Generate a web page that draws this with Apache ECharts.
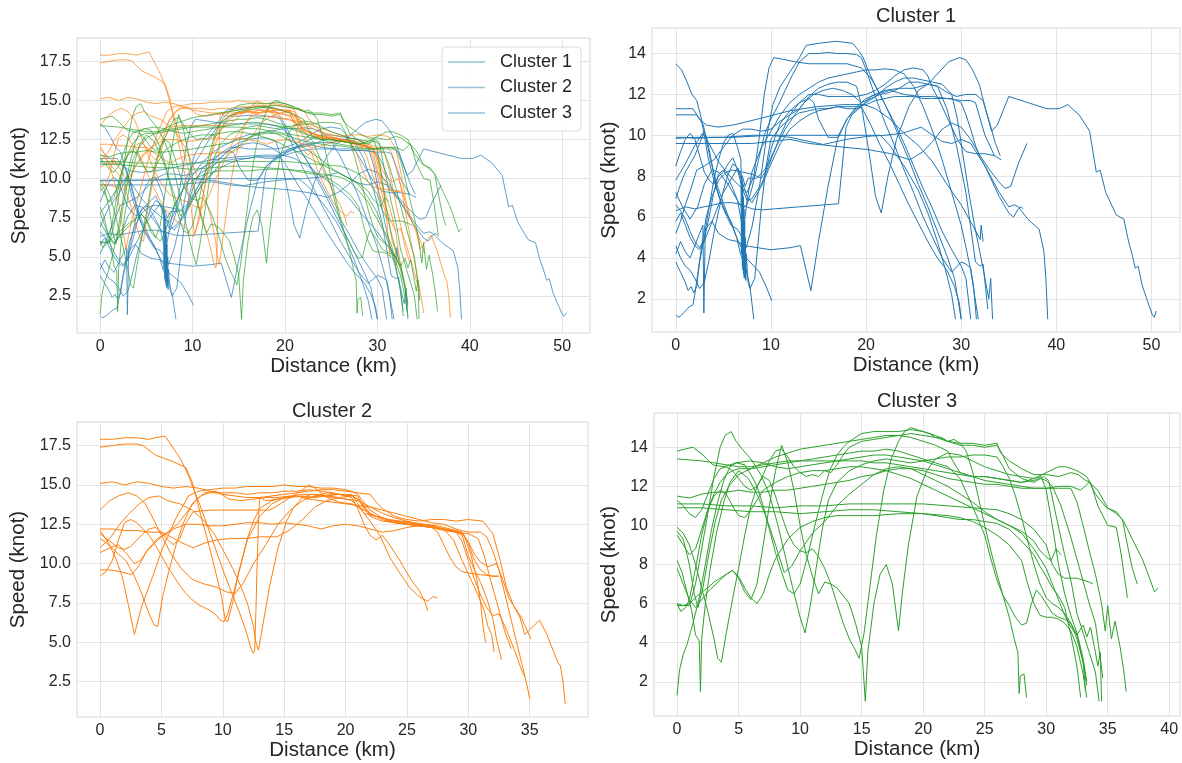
<!DOCTYPE html>
<html>
<head>
<meta charset="utf-8">
<title>Speed profiles by cluster</title>
<script src="https://cdn.jsdelivr.net/npm/echarts@6/dist/echarts.min.js"></script>
<style>
  html, body { margin: 0; padding: 0; background: #fff; }
  #chart { width: 1182px; height: 763px; }
</style>
</head>
<body>
<div id="chart"></div>
<script>
// cluster names / colours
const clusterNames = ["Cluster 1", "Cluster 2", "Cluster 3"];
const clusterColors = ["#1f77b4", "#ff7f0e", "#2ca02c"];

// tick labels per panel
const xTicksAll = [0, 10, 20, 30, 40, 50];
const xTicksCluster1 = [0, 10, 20, 30, 40, 50];
const xTicksCluster2 = [0, 5, 10, 15, 20, 25, 30, 35];
const xTicksCluster3 = [0, 5, 10, 15, 20, 25, 30, 35, 40];
const yTicksAll = [2.5, 5, 7.5, 10, 12.5, 15, 17.5];
const yTicksCluster1 = [2, 4, 6, 8, 10, 12, 14];
const yTicksCluster2 = [2.5, 5, 7.5, 10, 12.5, 15, 17.5];
const yTicksCluster3 = [2, 4, 6, 8, 10, 12, 14];

// trajectories: [distance (km), speed (knot)]
const cluster1Tracks = [
  [[0,13.5],[0.6,13.2],[1.1,12.7],[1.7,12.0],[2.2,11.7],[2.6,11.0],[3.0,10.0],[3.4,8.9],[3.9,8.0],[4.6,6.9],[5.3,6.2],[5.8,5.8],[6.4,5.0],[6.8,4.2],[7.3,3.6],[7.8,2.6],[8.2,1.0]],
  [[0,11.3],[1,11.3],[1.8,11.3],[2.5,10.8],[3.2,10.5],[4.5,10.4],[6,10.5],[7.8,10.7],[9.5,10.9],[12,11.2],[14.8,11.4],[17.6,11.5],[19.8,11.5],[21,11.3],[22.5,10.8],[24,10.1],[25.5,9.5],[27,8.7],[28.5,7.6],[30,6.6],[31.2,5.6],[32,4.9],[32.1,5.6],[32.3,4.8]],
  [[0,11.0],[1,11.0],[2.2,11.0],[2.9,10.5],[3.6,8.9],[4.3,7.6],[5.3,6.3],[6.4,5.0],[7.4,4.0],[8.2,3.6],[8.8,3.3],[9.5,2.6],[10.1,1.9]],
  [[0,9.9],[1,9.9],[2,9.85],[4,9.9],[6,9.9],[8,9.95],[10,10.0],[12,10.0],[14,10.0],[16,10.0],[18,10.0],[20,10.0],[21.5,10.0],[22.5,9.5],[24,8.5],[25.5,7.3],[26.5,6.2],[27.5,4.8],[28.3,3.5],[29,2.2],[29.4,1.0]],
  [[0,9.85],[2,9.9],[5,9.9],[8,10.0],[10,10.0],[12,9.9],[14,9.7],[15.5,9.55],[17.9,9.8],[20.2,9.95],[22,10.0],[23.8,10.1],[25.8,10.4],[27,10.0],[28,9.7],[29,9.6],[30,9.8],[31,9.6],[32.5,8.5],[34,7.2],[35,6.5],[35.6,6.6],[36,6.5],[37,5.9],[37.7,5.6],[38.2,5.4],[38.7,4.3],[38.9,3.0],[39.1,1.0]],
  [[0,9.6],[3,9.6],[6,9.6],[8,9.6],[10,9.7],[12,9.8],[14,9.6],[16,9.5],[18,9.4],[20.2,9.3],[22.6,9.1],[24.6,8.8],[26,9.2],[27,9.7],[28,10.3],[29,10.6],[30,10.4],[31,9.8],[32,9.0],[33,8.3],[34,7.7],[34.6,7.4],[35.2,7.5],[36,8.6],[36.9,9.6]],
  [[0,7.8],[1,8.6],[2,9.5],[2.8,10.1],[3.5,9.6],[4.5,8.7],[5.5,8.1],[6.5,7.6],[7.5,7.2],[8.2,8.0],[8.8,10.0],[9.3,12.0],[9.8,13.3],[10.3,13.8],[11.5,13.7],[12.5,13.6],[14,13.5],[16,13.5],[18,13.5],[19.5,13.3],[20.5,12.8],[21.5,12.0],[22.5,11.0],[23.5,9.9],[24.5,8.8],[25.5,7.6],[26.5,6.5],[27.5,5.3],[28.5,4.1],[29.3,3.0],[30,1.0]],
  [[0,7.2],[0.7,6.5],[1.5,5.9],[2.3,6.5],[3,7.6],[3.8,8.3],[4.5,8.2],[5.5,7.6],[6.5,6.8],[7,5.5],[7.4,4.5],[8,5.5],[8.8,7.5],[9.5,9.8],[10.2,11.5],[11,12.4],[12,13.1],[13,13.8],[13.7,14.4],[15,14.5],[16.9,14.6],[18.6,14.5],[19.3,14.1],[19.7,13.8],[20.2,13.2],[21,12.4],[22,11.5],[23,10.6],[24,9.6],[25,8.5],[26,7.4],[27,6.4],[28,5.3],[29,4.4],[30,3.6],[30.5,3.0],[31,1.0]],
  [[0,6.3],[1,6.5],[2,6.4],[3,6.5],[4,6.6],[5,6.7],[6,6.7],[7,6.6],[8,6.4],[9.1,6.35],[13,6.5],[17.1,6.65],[17.5,8.5],[17.9,10.4],[18.5,11.0],[19.5,11.4],[20.5,11.9],[22,12.2],[23.5,12.3],[25,12.3],[26.5,12.5],[27.5,13.0],[28.7,13.6],[29.8,13.8],[30.5,13.7],[31.2,13.2],[31.9,12.5],[32.6,11.2],[33.2,10.2],[33.8,10.5],[35,11.9],[37,11.6],[39,11.3],[40.3,11.3],[41.2,11.5],[42.4,11.0],[43.5,10.2],[44.2,8.2],[44.6,8.3],[45.2,7.2],[46.3,6.1],[47.1,5.9],[47.5,5.0],[47.7,4.6],[47.9,4.3],[48.3,3.5],[48.6,3.6],[49,2.7],[49.5,2.0],[50.1,1.2],[50.3,1.1],[50.5,1.4]],
  [[0,5.2],[0.5,5.8],[1,6.6],[1.6,7.4],[2.2,8.3],[3,8.5],[4,8.8],[5,9.4],[6,10.0],[7,10.3],[8,10.3],[9,10.2],[10,10.3],[11,10.7],[12,11.0],[13,11.3],[14,11.9],[15,12.3],[16,12.5],[17,12.6],[18,12.6],[19,12.4],[19.5,11.5],[20.3,9.2],[21.0,7.0],[21.6,6.2],[22.3,8.0],[23.2,9.8],[24.5,11.4],[25.5,12.2],[26.5,12.5],[27.5,12.4],[28.5,11.3],[29.5,9.5],[30.5,7.2],[31,5.5],[31.5,3.8],[32,3.6],[32.3,3.7],[32.5,2.8],[32.8,1.5]],
  [[0,4.2],[0.5,4.8],[1,4.3],[1.5,4.0],[2,4.6],[2.5,5.2],[2.85,5.6],[2.95,1.3],[3.1,5.4],[3.8,5.8],[4.5,5.2],[5.5,4.9],[6.5,4.8],[7.2,4.6],[7.9,4.55],[10,4.4],[12,4.5],[13.1,4.6],[14.2,2.4],[15,4.8],[16,7.5],[17,9.8],[18,10.8],[19,11.4],[20,11.8],[21,12.0],[22.5,12.2],[24,12.0],[25.5,11.9],[27,11.9],[28.5,11.8],[30,11.7],[31,11.7],[31.5,11.6],[32.5,10.0],[33.5,9.0],[34.2,8.8]],
  [[0,3.8],[0.5,3.3],[1,2.8],[1.3,2.4],[1.6,2.6],[1.9,2.3],[2.2,2.6],[2.5,3.8],[3,5.0],[3.5,6.5],[4,7.8],[4.5,8.8],[5,9.6],[5.5,10.0],[6,10.1],[6.5,9.4],[6.85,8.8],[6.9,4.2],[6.95,8.0],[7.0,3.6],[7.03,7.6],[7.06,3.4],[7.1,7.0],[7.13,3.2],[7.17,6.4],[7.2,3.0],[7.24,5.8],[7.28,3.1],[7.32,5.0],[7.36,2.9],[7.4,4.2],[7.6,2.8],[7.8,2.5],[8.3,3.0],[9,6.5],[9.5,8.5],[10,9.8],[11,10.4],[12,10.8],[13,11.1],[14,11.2],[15,11.3],[16,11.3],[17,11.4],[18,11.3],[19,11.3],[19.5,11.4],[20.5,10.5],[21.5,9.5],[22.5,8.6],[23.5,7.6],[24.5,6.6],[25.5,5.7],[26.5,4.8],[27.5,4.0],[28.5,3.4],[29.3,2.6],[29.8,1.8],[30.0,1.0]],
  [[0,1.2],[0.3,1.1],[0.6,1.2],[1,1.4],[1.4,1.6],[1.8,1.7],[2.0,2.2],[2.3,3.2],[2.7,4.5],[3.2,6.0],[3.8,7.0],[4.5,7.8],[5.3,8.2],[6,8.3],[7,8.2],[8,8.1],[8.5,8.0],[9,7.9],[9.5,8.3],[10,9.3],[10.5,10.0],[11,10.6],[12,11.2],[13,11.6],[14,12.0],[15,12.0],[16,11.9],[17,11.9],[18,11.9],[19,11.9],[20,12.0],[21,12.2],[22,12.5],[23,12.9],[24,13.2],[25,13.3],[26,13.2],[26.5,12.9],[27,12.3],[27.7,11.7],[28.5,10.9],[29.5,9.9],[30,9.5],[30.5,9.2],[31.5,9.1],[32.5,9.1],[33.5,9.0]],
  [[0,6.9],[0.5,7.6],[1,8.2],[1.5,8.6],[2,9.0],[2.5,9.6],[3,10.2],[3.3,9.8],[3.8,8.6],[4.3,7.4],[5,6.4],[5.8,5.6],[6.5,5.4],[7,5.0],[7.5,6.8],[8,8.2],[9,9.4],[10,10.2],[11,11.0],[12,11.6],[13,12.0],[14,12.3],[15,12.6],[16,12.8],[17,12.9],[18,13.0],[19,13.1],[20,13.2],[21,13.2],[22,13.25],[23,13.2],[24,13.0],[25,12.4],[26,11.4],[27,10.2],[28,8.8],[29,7.2],[30,5.6],[30.6,4.3],[31,3.4],[31.4,2.2],[31.8,1.0]],
  [[0,5.8],[0.5,6.2],[1,5.6],[1.5,5.0],[2,4.6],[2.5,4.4],[3,4.8],[3.5,5.4],[4,6.0],[4.5,6.6],[5,7.2],[5.5,7.6],[6,8.0],[6.5,8.4],[7,8.0],[7.3,7.5],[7.6,7.9],[8.5,7.9],[9.5,8.4],[10.5,9.4],[11.5,10.3],[12.5,11.0],[13.5,11.6],[14.5,12.0],[15.5,12.2],[16.5,12.3],[17.5,12.2],[18.5,12.0],[19.5,11.6],[20.5,11.8],[21.5,12.0],[22.5,12.1],[23.5,12.3],[24.5,12.6],[25.5,12.6],[26.5,12.5],[27.5,12.4],[28.5,12.1],[29.5,11.9],[30.5,12.0],[31.5,12.0],[32.3,11.7],[33,10.6],[33.6,9.6],[34.1,9.0]],
  [[0,4.6],[0.5,4.0],[1,3.6],[1.5,3.4],[2,3.0],[2.5,2.5],[3,2.8],[3.5,3.9],[4,5.2],[4.5,6.3],[5,7.3],[5.5,8.1],[6,8.6],[6.5,8.4],[7,7.7],[7.5,7.0],[8,6.7],[9,7.5],[10,8.6],[11,9.6],[12,10.3],[13,10.7],[14,11.0],[15,11.2],[16,11.3],[17,11.4],[18,11.4],[19,11.4],[20,11.5],[21,11.7],[22,11.8],[23,11.9],[24,11.9],[25,11.9],[26,11.8],[27,11.8],[28,11.8],[29,11.8],[30,11.6],[30.5,11.0],[31,10.3],[31.5,9.5],[32,8.9],[32.5,8.5],[33,8.0],[33.5,7.5],[34,7.0],[34.5,6.6],[35,6.2],[35.5,6.0],[36,6.4],[36.3,6.5],[36.5,6.4]],
  [[0,8.5],[0.5,9.2],[1,9.8],[1.5,10.1],[2,9.8],[2.5,9.0],[3,8.2],[3.5,7.8],[4,7.6],[4.5,8.0],[5,8.2],[5.5,8.6],[6,8.9],[6.5,8.3],[7,7.4],[7.5,6.8],[8,6.9],[9,7.6],[10,8.8],[11,10.0],[12,11.0],[13,11.6],[14,11.8],[14.5,11.6],[15,10.8],[16,9.9],[17,9.9],[18,10.8],[19,11.3],[20,11.6],[21,11.9],[22,12.3],[23,12.6],[24,12.8],[25,12.8],[26,12.7],[27,12.6],[28,12.5],[29,12.0],[29.6,10.8],[30.2,9.0],[30.8,7.2],[31.4,5.6],[32,4.2],[32.5,3.0],[32.9,2.0],[33.1,3.0],[33.3,1.0]],
  [[0,6.6],[0.5,6.3],[1,5.9],[1.5,5.3],[2,4.8],[2.5,4.5],[3,4.9],[3.5,6.0],[4,7.2],[4.5,8.1],[5,8.3],[5.5,7.9],[6,7.4],[6.5,6.8],[7,6.4],[7.5,6.6],[8,7.4],[8.7,8.8],[9.3,10.0],[10,10.8],[10.8,11.5],[11.5,12.2],[12.2,12.9],[13,13.6],[14,14.0],[15,14.0],[16,14.05],[17,14.0],[18,14.0],[19,13.95],[19.5,13.8],[20,13.2],[20.6,12.4],[21.2,11.6],[22,10.6],[23,9.5],[24,8.3],[25,7.2],[26,6.0],[27,5.0],[28,4.0],[29,3.3],[30,3.8],[30.5,3.7],[31,3.5],[31.3,2.6],[31.6,1.0]]
];

const cluster2Tracks = [
  [[0,17.9],[1,17.9],[2,18.0],[3,18.0],[4,17.9],[4.5,18.0],[5.3,18.1],[6,17.3],[6.6,16.6],[7.2,15.6],[7.7,14.6],[8.2,13.6],[8.7,12.5],[9.2,11.4],[9.7,10.3],[10.2,9.2],[10.8,8.0],[11.4,6.8],[11.9,5.7],[12.3,4.6],[12.5,4.3],[12.6,4.5],[12.7,7.0],[12.8,10.0],[12.9,12.5],[13.0,14.2],[13.5,14.0],[14.5,14.1],[15.5,14.2],[16.5,14.3],[17.5,14.2],[18.5,14.3],[19.5,14.4],[20.5,14.3],[21,14.1],[21.5,13.5],[22,13.1],[23,12.9],[24,12.7],[25,12.6],[26,12.5],[27,12.4],[28,12.2],[29,12.0],[29.5,11.8],[30,10.5],[30.5,9.6],[31,8.8],[31.5,7.8],[32,6.5],[32.3,5.2],[32.7,3.9]],
  [[0,17.4],[1,17.5],[2,17.6],[3,17.6],[3.5,17.5],[4.5,16.9],[5.9,16.5],[7,16.1],[7.5,15.2],[8.2,13.1],[8.9,11.1],[9.5,9.2],[9.9,7.9],[10.2,6.4],[10.4,6.3],[10.8,7.5],[11.3,9.5],[12,11.5],[13,13.0],[14,13.8],[15,14.2],[16,14.3],[17,14.2],[18,14.3],[19,14.4],[20,14.4],[21,14.3],[21.5,13.6],[22,13.0],[23,12.7],[24,12.6],[25,12.5],[26,12.4],[27,12.3],[28,12.1],[29,12.0],[30,11.9],[30.8,11.6],[31.3,10.5],[31.8,9.0],[32.3,7.6],[32.7,6.5],[33,5.6],[33.3,5.0],[33.5,4.6]],
  [[0,15.1],[1,15.2],[2,15.0],[3,15.2],[4,15.1],[5,14.9],[6,14.8],[7,14.9],[8,14.8],[9,14.6],[10,14.4],[11,14.3],[12,14.2],[13,14.2],[14,14.3],[15,14.4],[16,14.5],[17,14.6],[18,14.7],[19,14.7],[20,14.6],[21,14.5],[22,14.4],[22.5,13.9],[23,13.5],[24,13.0],[25,12.8],[26,12.7],[27,12.8],[28,12.8],[29,12.7],[30,12.8],[31.2,12.7],[32,11.9],[32.6,10.2],[33.1,8.5],[33.7,7.3],[34.2,6.6],[34.6,5.5],[35,5.8],[35.8,6.4],[36.4,5.5],[37,4.3],[37.3,3.7],[37.5,3.5],[37.7,2.6],[37.9,1.1]],
  [[0,13.4],[0.8,14.0],[1.5,14.3],[2.3,14.5],[3,14.3],[3.7,13.8],[4.3,12.9],[5,11.8],[5.8,10.6],[6.6,9.7],[7.5,9.0],[8.5,8.7],[9.5,8.5],[10.3,8.2],[11,8.1],[11.7,8.8],[12.5,10.0],[13.5,11.2],[14.5,12.5],[15.5,13.4],[16.5,14.0],[17.5,14.3],[18.5,14.5],[19.5,14.4],[20.5,14.2],[21,13.5],[21.5,12.5],[22,11.8],[22.5,11.5],[23,11.8],[23.5,11.3],[24,10.7],[24.5,10.1],[25,9.4],[25.5,8.8],[26,8.3],[26.5,7.5],[26.7,7.0]],
  [[0,12.1],[0.7,11.3],[1.3,10.3],[1.8,9.2],[2.3,7.4],[2.8,5.5],[3.4,7.3],[4.3,9.2],[5.1,11.0],[6.2,12.9],[7.2,14.3],[8,14.6],[9,14.7],[10,14.8],[11,14.8],[12,14.9],[13,14.9],[14,14.9],[15,15.0],[16,14.9],[17,14.9],[18,14.8],[19,14.8],[20,14.7],[20.5,14.6],[21,14.4],[22,13.4],[23,12.9],[24,12.6],[25,12.5],[26,12.4],[27,12.3],[28,12.2],[29,12.1],[29.6,11.9],[30.2,10.6],[30.7,9.0],[31.0,7.5],[31.2,6.0],[31.4,5.0]],
  [[0,11.6],[0.7,11.2],[1.5,10.6],[2.1,10.2],[2.8,9.2],[3.4,8.1],[3.9,7.0],[4.4,6.1],[4.7,6.0],[5.1,7.9],[5.6,9.5],[6.2,11.2],[6.8,12.6],[7.5,13.8],[8.2,14.3],[8.9,14.5],[10,14.5],[11,14.5],[12,14.4],[13,14.5],[14,14.5],[15,14.6],[16,14.6],[17,14.7],[18,14.6],[19,14.5],[20,14.3],[20.5,14.4],[21,13.8],[21.5,13.2],[22.5,13.0],[23.5,12.8],[24.5,12.6],[25.5,12.5],[26.5,12.4],[27.5,12.3],[28.5,12.1],[29.5,11.9],[30,11.4],[30.5,10.6],[31,10.1],[31.6,9.8],[32.3,10.0],[32.8,9.0],[33.3,7.8],[33.8,7.2],[34.3,6.6],[34.7,5.9],[35.1,5.2]],
  [[0,11.0],[0.8,11.6],[1.6,12.5],[2.4,13.2],[3.2,13.8],[4,14.2],[4.8,14.3],[5.5,14.0],[6.5,13.8],[7.5,13.4],[8.5,12.7],[9.3,11.9],[10,10.9],[10.8,9.7],[11.5,8.5],[12,7.5],[12.5,6.0],[12.7,5.0],[12.9,4.5],[13.2,5.8],[13.8,8.5],[14.5,11.0],[15.2,12.7],[15.8,13.6],[16.5,14.2],[17.2,14.4],[18,14.3],[19,14.2],[20,14.1],[21,14.0],[22,13.6],[23,13.2],[24,12.9],[25,12.7],[26,12.5],[27,12.4],[28,12.2],[28.8,11.5],[29.5,10.2],[30.2,9.0],[30.8,8.0],[31.3,7.0],[31.6,6.0],[31.9,5.5],[32.1,4.4]],
  [[0,10.7],[0.8,11.0],[1.5,11.2],[2.2,10.6],[2.8,10.0],[3.3,10.2],[4,11.0],[4.7,11.6],[5.5,12.0],[6.3,12.5],[7,13.2],[7.8,14.0],[8.5,14.5],[9.5,14.6],[10.5,14.1],[11.5,14.0],[12.5,14.1],[13.5,14.2],[14.5,14.2],[15.5,14.3],[16.5,14.4],[17.5,14.4],[18.5,14.3],[19.5,14.2],[20.5,14.0],[21.2,13.5],[22,12.7],[22.8,11.8],[23.6,10.4],[24.5,9.3],[25.2,8.5],[26,7.9],[26.7,7.6],[27.1,7.9],[27.5,7.8]],
  [[0,9.6],[0.8,9.6],[1.6,9.5],[2.6,9.3],[3.2,9.9],[3.8,10.8],[5,11.7],[6,12.2],[7,12.5],[8,12.5],[9,12.4],[10,12.4],[11,12.5],[12,12.6],[13,12.6],[14,12.5],[15,12.6],[16,12.5],[17,12.4],[18,12.2],[19,12.4],[20,12.5],[21,12.4],[22,12.2],[23,12.0],[24,12.1],[25,12.3],[26,12.4],[27,12.3],[27.5,12.0],[28,11.2],[28.5,10.4],[29,9.8],[29.5,9.5],[30,9.4],[31,9.3],[32,9.2],[32.5,9.2]],
  [[0,9.2],[0.5,9.5],[1,10.2],[1.5,11.5],[2,12.6],[2.5,12.8],[3,12.6],[3.5,12.2],[4,11.8],[4.5,11.2],[5,10.5],[5.5,9.8],[6,9.2],[6.5,8.6],[7,8.1],[7.5,7.7],[8,7.4],[8.5,7.2],[9,7.0],[9.5,6.7],[9.8,6.4],[10.1,6.3],[10.4,6.8],[11,8.5],[11.5,10.0],[12,11.6],[12.5,12.7],[13,13.5],[14,14.0],[15,14.2],[16,14.3],[17,14.1],[18,14.0],[19,13.9],[20,13.8],[21,13.7],[22,13.6],[23,13.4],[24,13.2],[25,13.0],[26,12.8],[27,12.6],[28,12.5],[29,12.2],[30,12.0],[31,12.0],[31.5,11.7],[32,10.8],[32.5,9.6],[33,8.0],[33.5,6.4],[34,4.8],[34.4,3.5],[34.8,2.2],[35,1.4]],
  [[0,12.2],[1,12.2],[2,12.1],[3,12.1],[4,12.0],[5,12.0],[6,11.6],[7,11.2],[7.6,11.0],[8.5,11.3],[9.5,11.5],[10.7,11.6],[12,11.6],[13,11.7],[14.4,11.7],[15.4,12.1],[16.5,12.8],[17.5,13.6],[18.5,14.0],[19.5,14.2],[20.5,14.3],[21.2,14.0],[22,13.2],[23,12.8],[24,12.6],[25,12.5],[26,12.4],[27,12.3],[28,12.2],[29,12.0],[29.5,11.4],[30,10.2],[30.5,9.0],[31,8.0],[31.5,7.2],[32,6.7],[32.5,6.8],[33,6.0],[33.5,5.0],[34,4.0],[34.3,3.3],[34.6,2.8]],
  [[0,11.9],[0.5,11.6],[1,11.3],[1.5,11.0],[2,10.9],[2.5,11.1],[3,11.5],[3.5,11.9],[4,12.2],[4.5,12.3],[5,12.0],[5.5,11.5],[6,11.2],[6.5,11.6],[7,12.6],[7.6,13.3],[9,13.4],[10,13.4],[11,13.4],[12,13.4],[13,13.4],[13.8,13.4],[14.5,13.7],[15.5,14.2],[16.5,14.7],[17,15.0],[17.5,14.8],[18.5,14.2],[19.5,13.9],[20.5,13.8],[21.5,13.4],[22.5,13.0],[23.5,12.8],[24.5,12.7],[25.5,12.6],[26.5,12.5],[27.5,12.4],[28.5,12.2],[29.5,12.0],[30,11.3],[30.5,10.2],[31,9.6],[31.5,9.3],[32,9.2],[32.4,9.2]]
];

const cluster3Tracks = [
  [[0,13.8],[0.6,13.9],[1.3,14.0],[2.1,13.6],[2.9,13.1],[3.8,13.0],[4.8,13.2],[5.9,13.3],[7,13.2],[8,13.0],[9,12.9],[10,13.0],[11,13.1],[12,13.2],[13,13.3],[14,13.4],[15,13.5],[16,13.6],[17,13.6],[18,13.5],[19,13.4],[20,13.3],[21,13.1],[22,12.9],[23,12.7],[24,12.5],[25,12.3],[26,12.2],[27,12.1],[28,12.0],[29,11.9],[30,11.9],[31,11.9],[32,11.9],[32.5,11.2],[33,10.0],[33.5,8.7],[34,7.5],[34.5,6.0],[34.8,4.6],[35,5.9],[35.3,4.2],[35.6,5.1],[36,3.8],[36.3,2.6],[36.5,1.5]],
  [[0,13.4],[1,13.35],[2,13.3],[3,13.2],[4,13.1],[5,13.0],[6,13.0],[7,13.1],[8,13.2],[9,13.3],[10,13.3],[11,13.3],[12,13.3],[13,13.3],[14,13.3],[15,13.3],[16,13.2],[17,13.2],[18,13.1],[19,13.0],[20,12.9],[21,12.8],[22,12.7],[23,12.6],[24,12.5],[25,12.5],[26,12.4],[27,12.3],[28,12.2],[29,12.4],[30,12.7],[31,13.0],[31.6,13.0],[32.5,12.8],[33.3,12.5],[34,11.6],[34.9,10.9],[35.7,10.7],[36.3,10.2],[37,9.3],[37.8,8.3],[38.4,7.3],[38.8,6.6],[39.1,6.8]],
  [[0,11.5],[1,11.4],[2,11.6],[3,11.7],[4,11.7],[5,11.8],[6,11.7],[7,11.7],[8,11.8],[9,11.8],[10,11.9],[11,12.0],[12,12.1],[13,12.2],[14,12.3],[15,12.5],[16,12.6],[17,12.8],[18,12.9],[19,12.9],[20,12.8],[21,12.6],[22,12.4],[23,12.3],[24,12.2],[25,12.1],[26,12.1],[27,12.0],[28,11.9],[29,11.9],[30,11.9],[31,12.0],[32,12.0],[32.8,11.8],[33.5,12.2],[34.2,11.8],[35,10.9],[35.7,10.6],[36.2,10.3],[36.6,9.0],[37,7.8],[37.4,7.0]],
  [[0,11.1],[2,11.1],[4,11.0],[6,11.0],[8,10.9],[10,11.0],[12,11.0],[14,11.1],[16,11.1],[18,11.1],[20,11.1],[22,11.0],[24,10.9],[26,10.8],[27,10.6],[28,10.3],[29,9.8],[30,9.0],[30.5,8.0],[31,7.5],[31.5,7.3],[32.5,7.3],[33.5,7.1],[33.8,7.0]],
  [[0,10.9],[2,10.9],[4,10.8],[6,10.7],[8,10.7],[10,10.6],[12,10.7],[14,10.8],[16,10.8],[18,10.7],[20,10.6],[22,10.4],[23,10.3],[24,10.3],[25,10.2],[26,10.1],[27,9.8],[28,9.2],[29,8.5],[29.5,7.9],[30,7.4],[30.5,6.8],[31,6.4],[31.5,5.8],[32,4.4],[32.5,2.8],[32.8,1.2]],
  [[0,9.7],[0.5,9.3],[1,8.0],[1.4,6.5],[1.7,5.8],[2.1,6.8],[2.6,8.6],[3.1,10.2],[3.6,11.3],[4.2,12.0],[5,12.6],[6,12.9],[7,13.2],[8,13.5],[9,13.7],[10,13.9],[11,14.0],[12,14.1],[13,14.2],[14,14.3],[15,14.4],[16,14.5],[17,14.6],[18,14.6],[19,14.5],[20,14.3],[21,14.1],[22,13.8],[22.5,13.2],[23,12.7],[24,12.5],[25,12.5],[26,12.4],[27,12.3],[28,12.2],[29,12.3],[29.5,12.4],[30,12.3],[30.5,12.0],[31.2,11.0],[32,9.4],[32.8,7.6],[33.5,6.0],[34,5.0],[34.4,3.2],[34.6,2.2]],
  [[0,8.2],[0.4,7.6],[0.8,6.6],[1.2,5.6],[1.5,4.4],[1.8,4.1],[1.9,1.5],[2.0,4.2],[2.3,6.0],[2.7,7.8],[3.2,9.6],[3.8,11.2],[4.3,12.2],[5,12.8],[5.8,12.4],[6.5,11.6],[7.2,10.5],[8,9.0],[8.7,7.6],[9.3,7.9],[10,8.7],[11,9.6],[12,10.2],[13,11.0],[14,11.6],[15,12.1],[16,12.6],[17,12.9],[18,13.0],[19,12.9],[20,12.6],[21,12.3],[22,12.0],[23,11.6],[24,11.2],[25,10.7],[26,10.3],[27,10.0],[28,9.6],[29,8.8],[30,7.8],[30.5,7.0],[31,6.2],[31.5,5.4],[32,4.8],[32.5,4.4],[33,4.9],[33.3,4.3],[33.6,4.8],[34,3.5],[34.2,2.8],[34.4,3.5],[34.5,1.0]],
  [[0,1.3],[0.2,2.6],[0.5,3.4],[0.8,3.9],[1.3,5.0],[1.8,6.3],[2.3,8.0],[2.8,9.8],[3.3,11.2],[3.8,12.3],[4.3,13.0],[4.8,13.2],[5.5,13.1],[6,12.6],[6.5,12.0],[7,11.0],[7.5,9.8],[8,8.6],[8.5,7.6],[9,6.7],[9.5,6.5],[10,7.0],[10.6,8.4],[11.2,10.0],[11.8,11.5],[12.4,12.8],[13,13.6],[13.5,14.0],[14,14.3],[15,14.7],[16,14.8],[17,14.8],[18,14.8],[19,14.9],[20,14.8],[21,14.6],[22,14.3],[23,14.1],[24,14.1],[25,14.0],[26,14.1],[26.3,13.8],[27,12.9],[28,12.4],[29,12.2],[29.8,12.5],[30.2,12.3],[30.8,10.5],[31.5,8.5],[32,7.2],[32.5,5.5],[33,4.5],[33.5,3.5],[34,2.5],[34.3,1.0]],
  [[0,6.0],[0.5,5.9],[1,5.9],[1.5,7.0],[2,8.8],[2.5,10.6],[3,12.5],[3.5,14.0],[3.9,14.6],[4.4,14.8],[4.8,14.3],[5.3,13.9],[6,13.4],[6.8,12.6],[7.5,11.6],[8.2,10.0],[8.8,8.4],[9.4,6.8],[10.0,5.3],[10.4,4.5],[10.8,5.8],[11.3,7.8],[11.8,9.8],[12.3,11.3],[13,12.2],[14,12.8],[15,13.1],[16,13.3],[17,13.4],[18,13.3],[19,13.2],[20,13.3],[21,13.4],[22,13.5],[23,13.5],[24,13.6],[25,13.6],[26,13.5],[26.5,13.0],[27,12.4],[27.5,11.5],[28,10.4],[28.5,9.2],[29,8.0],[29.5,7.0],[30,6.3],[30.5,6.0],[31,5.8],[31.5,5.5],[32,5.0],[32.5,4.2],[33,3.0],[33.2,1.5]],
  [[0,7.8],[0.5,7.0],[1,6.2],[1.5,5.8],[2,6.2],[2.5,6.6],[3,6.9],[3.5,7.2],[4,7.5],[4.5,7.7],[5,7.3],[5.5,6.6],[6,6.2],[6.5,7.0],[7,9.0],[7.5,11.0],[8,12.8],[8.5,14.1],[9,13.2],[9.5,11.8],[10,10.0],[10.5,8.5],[11,7.4],[11.5,6.5],[12,7.1],[12.5,7.0],[13,6.8],[13.5,6.4],[14,6.0],[14.5,5.0],[15,3.8],[15.3,1.0],[15.5,3.5],[16,6.0],[16.5,7.5],[17,8.0],[17.5,7.0],[18,4.6],[18.3,6.5],[18.8,9.0],[19.5,11.5],[20.3,12.8],[21,13.4],[22,13.7],[23,13.6],[24,13.3],[25,13.0],[26,12.8],[27,12.6],[28,12.5],[29,12.4],[29.6,12.5],[30,11.8],[30.5,10.0],[31,8.0],[31.5,6.5],[32,5.4],[32.5,4.5],[33,3.2],[33.3,2.0]],
  [[0,9.9],[0.5,9.6],[1,9.0],[1.5,8.0],[2,6.8],[2.5,5.6],[3,4.2],[3.3,3.2],[3.6,3.0],[4,4.5],[4.5,6.2],[5,7.8],[5.5,9.5],[6,11.0],[6.5,12.0],[7,12.5],[7.5,12.3],[8,11.5],[8.5,10.5],[9,9.6],[9.5,9.0],[10,8.7],[10.5,8.6],[11,8.8],[11.5,8.4],[12,7.8],[12.5,7.0],[13,6.0],[13.5,5.0],[14,4.2],[14.5,3.6],[14.8,3.2],[15.2,4.5],[15.7,7.0],[16.2,9.5],[16.8,11.8],[17.4,13.4],[18,14.3],[18.5,14.8],[19,15.0],[19.5,14.9],[20,14.8],[20.5,14.7],[21,14.5],[21.5,14.5],[22,14.3],[22.5,14.4],[23,14.2],[23.5,13.8],[24,12.8],[24.5,11.4],[25,10.0],[25.5,8.7],[26,7.5],[26.5,6.4],[27,5.3],[27.4,4.2],[27.7,3.5],[27.8,1.4],[27.9,2.3],[28.2,2.4],[28.4,1.2]],
  [[0,5.9],[0.5,5.9],[1,6.0],[1.5,6.3],[2,6.6],[2.5,6.8],[3,7.1],[3.5,7.3],[4,7.5],[4.5,7.7],[5,7.4],[5.5,6.8],[6,6.3],[6.5,6.0],[7,6.5],[7.5,7.5],[8,8.3],[8.5,8.8],[9,9.3],[10,9.9],[11,10.2],[12,10.4],[13,10.5],[14,10.5],[16,10.5],[18,10.6],[20,10.6],[22,10.5],[23,10.4],[24,10.2],[25,9.9],[26,9.5],[27,9.0],[28,8.2],[28.5,7.0],[29,6.0],[29.5,5.4],[30,5.3],[30.5,5.3],[31,5.2],[31.5,5.0],[32,4.6],[32.5,3.8],[33,2.4],[33.3,1.2]],
  [[0,9.5],[0.5,9.0],[1,8.5],[1.5,8.8],[2,9.8],[2.5,10.8],[3,11.5],[3.5,11.8],[4,11.6],[4.5,11.0],[5,10.5],[5.5,10.4],[6,10.8],[6.5,11.3],[7,11.8],[8,12.2],[9,12.5],[10,12.7],[11,12.8],[12,12.8],[13,12.9],[14,13.0],[15,13.0],[16,12.9],[17,12.8],[18,12.6],[19,12.4],[20,12.1],[21,11.8],[22,11.5],[23,11.2],[24,10.9],[25,10.6],[26,10.3],[27,10.0],[28,9.7],[29,9.2],[29.5,8.7],[30,8.4],[30.4,8.2],[30.8,8.8],[31.2,8.5]],
  [[0,11.3],[0.5,11.0],[1,10.6],[1.5,10.4],[2,10.8],[2.5,11.6],[3,12.4],[3.5,12.9],[4,13.0],[4.5,12.8],[5,12.4],[5.5,12.0],[6,11.8],[6.5,12.0],[7,12.6],[7.5,13.3],[8,13.8],[8.5,13.9],[9,13.5],[9.5,13.0],[10,12.7],[10.5,12.5],[11,12.6],[11.5,12.5],[12,12.8],[12.5,12.7],[13,13.1],[13.5,13.6],[14,14.0],[15,14.3],[16,14.4],[17,14.5],[18,14.6],[19,14.7],[20,14.6],[21,14.5],[22,14.3],[23,14.2],[24,14.2],[25,14.1],[26,14.2],[26.3,13.7],[27,13.3],[28,12.9],[29,12.6],[30,12.6],[31,12.5],[32,12.7],[32.6,12.6],[33.2,12.3],[33.6,12.2],[34.2,11.0],[35,10.0],[35.7,9.9],[36.1,8.5],[36.6,6.3]],
  [[0,6.0],[0.3,5.6],[0.7,5.8],[1,6.2],[1.5,7.8],[2,9.5],[2.5,10.8],[3,11.6],[3.5,12.2],[4,12.6],[4.5,12.8],[5,12.9],[6,12.9],[7,13.0],[8,13.1],[9,13.2],[10,13.3],[11,13.4],[12,13.5],[13,13.6],[14,13.7],[15,13.8],[16,13.8],[17,13.9],[18,13.8],[19,13.6],[20,13.4],[21,13.2],[22,13.0],[23,12.4],[24,11.0],[25,9.5],[25.5,8.3],[26,7.2],[26.5,6.4],[27,5.9],[27.5,5.3],[28,4.9],[28.4,5.0],[28.8,6.0],[29.2,6.7],[29.6,6.4],[30,6.0],[30.5,5.5],[31,5.3],[31.5,5.2],[32,5.0],[32.5,4.4],[33,3.0],[33.3,1.8]]
];

const FONT = "'Liberation Sans', Arial, sans-serif";
const TEXT = "#262626";
const GRID_LINE = "#e3e3e3";
const FRAME = "#d6d6d6";

// value axis whose grid lines / labels sit only on the listed ticks
function axis(gridIndex, min, max, step, ticks, decimals, name, nameGap) {
  const isTick = v => ticks.some(t => Math.abs(t - v) < step / 10);
  const colors = [];
  const count = Math.round((max - min) / step) + 3;
  for (let i = 0; i < count; i++) {
    colors.push(isTick(min + i * step) ? GRID_LINE : "rgba(0,0,0,0)");
  }
  return {
    type: "value",
    gridIndex: gridIndex,
    min: min,
    max: max,
    interval: step,
    name: name,
    nameLocation: "middle",
    nameGap: nameGap,
    nameTextStyle: { fontFamily: FONT, fontSize: 20.5, color: TEXT },
    axisLine: { show: false },
    axisTick: { show: false },
    axisLabel: {
      margin: 6,
      fontFamily: FONT,
      fontSize: 16,
      color: TEXT,
      customValues: ticks,
      formatter: v => (isTick(v) ? v.toFixed(decimals) : "")
    },
    splitLine: {
      show: true,
      showMinLine: true,
      showMaxLine: true,
      lineStyle: { color: colors, width: 1 }
    }
  };
}

function trackSeries(tracks, color, gridIndex, opacity) {
  return tracks.map(t => ({
    type: "line",
    xAxisIndex: gridIndex,
    yAxisIndex: gridIndex,
    data: t,
    symbol: "none",
    silent: true,
    animation: false,
    lineStyle: { color: color, width: 1, opacity: opacity }
  }));
}

const gridBox = { show: true, borderColor: FRAME, borderWidth: 1, backgroundColor: "transparent" };

const chart = echarts.init(document.getElementById("chart"));

chart.setOption({
  backgroundColor: "#ffffff",
  animation: false,
  title: [
    { text: "Cluster 1", left: 916, top: 6, textAlign: "center", padding: 0,
      textStyle: { fontFamily: FONT, fontSize: 20, fontWeight: "normal", color: TEXT } },
    { text: "Cluster 2", left: 332, top: 401, textAlign: "center", padding: 0,
      textStyle: { fontFamily: FONT, fontSize: 20, fontWeight: "normal", color: TEXT } },
    { text: "Cluster 3", left: 917, top: 391, textAlign: "center", padding: 0,
      textStyle: { fontFamily: FONT, fontSize: 20, fontWeight: "normal", color: TEXT } }
  ],
  legend: {
    data: clusterNames.map(n => ({ name: n, icon: "rect" })),
    orient: "vertical",
    left: 442,
    top: 47,
    itemWidth: 37,
    itemHeight: 1.6,
    itemGap: 7.5,
    padding: [6, 9, 9, 6],
    backgroundColor: "rgba(255,255,255,0.8)",
    borderColor: "#d9d9d9",
    borderWidth: 1,
    borderRadius: 4,
    selectedMode: false,
    textStyle: { fontFamily: FONT, fontSize: 18, color: TEXT, padding: [0, 0, 0, 10] }
  },
  grid: [
    Object.assign({ left: 77, top: 38, width: 513, height: 295 }, gridBox),
    Object.assign({ left: 652, top: 28, width: 528, height: 304 }, gridBox),
    Object.assign({ left: 77, top: 422, width: 511, height: 295 }, gridBox),
    Object.assign({ left: 654, top: 413, width: 526, height: 303 }, gridBox)
  ],
  xAxis: [
    axis(0, -2.5, 53, 2.5, xTicksAll, 0, "Distance (km)", 22),
    axis(1, -2.5, 53, 2.5, xTicksCluster1, 0, "Distance (km)", 22),
    axis(2, -1.875, 39.75, 0.125, xTicksCluster2, 0, "Distance (km)", 22),
    axis(3, -1.875, 40.875, 0.125, xTicksCluster3, 0, "Distance (km)", 22)
  ],
  yAxis: [
    axis(0, 0.125, 19, 0.125, yTicksAll, 1, "Speed (knot)", 47),
    axis(1, 0.375, 15.25, 0.125, yTicksCluster1, 0, "Speed (knot)", 32),
    axis(2, 0.25, 19, 0.25, yTicksCluster2, 1, "Speed (knot)", 48),
    axis(3, 0.25, 15.75, 0.125, yTicksCluster3, 0, "Speed (knot)", 34)
  ],
  series: [].concat(
    clusterNames.map(n => ({
      name: n, type: "line", xAxisIndex: 0, yAxisIndex: 0, data: [],
      color: "rgba(31,119,180,0.45)"
    })),
    trackSeries(cluster1Tracks, clusterColors[0], 0, 0.7),
    trackSeries(cluster2Tracks, clusterColors[1], 0, 0.7),
    trackSeries(cluster3Tracks, clusterColors[2], 0, 0.7),
    trackSeries(cluster1Tracks, clusterColors[0], 1, 1),
    trackSeries(cluster2Tracks, clusterColors[1], 2, 1),
    trackSeries(cluster3Tracks, clusterColors[2], 3, 1)
  )
});
</script>
</body>
</html>
